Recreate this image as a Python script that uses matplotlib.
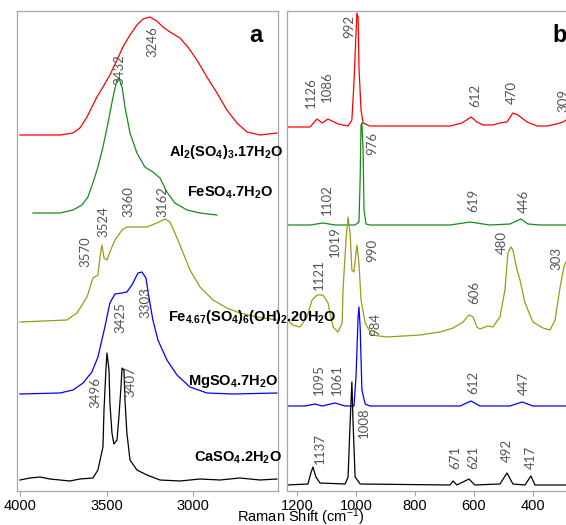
import matplotlib
matplotlib.use("Agg")
from matplotlib import pyplot as plt

# ---- panel a : O-H stretching region (wavenumber, intensity) ----
al_oh_x = [4000, 3769, 3694, 3654, 3613, 3585, 3556, 3521, 3481, 3440, 3406, 3365,
           3325, 3290, 3250, 3210, 3175, 3134, 3077, 3031, 2979, 2921, 2863, 2806,
           2748, 2690, 2615, 2517]
al_oh_y = [356, 356, 358, 363, 374, 384, 394, 404, 416, 431, 444, 456,
           466, 472, 474, 470, 464, 459, 453, 444, 431, 414, 398, 381,
           368, 359, 356, 358]

fe7_oh_x = [3925, 3769, 3694, 3642, 3608, 3579, 3550, 3521, 3492, 3463, 3440, 3429,
            3411, 3394, 3365, 3325, 3279, 3233, 3192, 3152, 3106, 3036, 2961, 2863]
fe7_oh_y = [278, 278, 281, 286, 294, 308, 324, 344, 368, 394, 411, 413,
            404, 384, 358, 338, 324, 319, 313, 299, 288, 281, 278, 276]

fe467_oh_x = [4000, 3729, 3671, 3613, 3579, 3550, 3538, 3527, 3515, 3498, 3481, 3452,
              3411, 3383, 3325, 3267, 3210, 3163, 3134, 3106, 3065, 3019, 2961, 2886,
              2806, 2731, 2633, 2517]
fe467_oh_y = [169, 171, 178, 194, 213, 216, 234, 246, 233, 231, 239, 251,
              261, 264, 264, 264, 268, 272, 269, 258, 241, 221, 204, 191,
              183, 178, 174, 171]

mg_oh_x = [4000, 3769, 3694, 3636, 3585, 3550, 3510, 3481, 3452, 3411, 3383, 3354,
           3319, 3296, 3273, 3256, 3233, 3204, 3152, 3094, 3019, 2921, 2771, 2517]
mg_oh_y = [97, 98, 101, 108, 119, 134, 164, 188, 197, 198, 199, 206,
           218, 219, 213, 194, 171, 151, 131, 116, 104, 98, 97, 98]

ca_oh_x = [4000, 3942, 3885, 3827, 3769, 3712, 3654, 3579, 3550, 3521, 3515, 3504,
           3498, 3486, 3481, 3469, 3458, 3440, 3429, 3417, 3411, 3400, 3394, 3383,
           3365, 3325, 3267, 3192, 3077, 2961, 2846, 2731, 2615, 2517]
ca_oh_y = [11, 13, 14, 12, 11, 10, 12, 13, 21, 44, 81, 121,
           138, 121, 88, 58, 47, 51, 74, 104, 123, 121, 91, 58,
           31, 21, 16, 11, 10, 12, 11, 13, 11, 12]

# ---- panel b : sulfate region ----
al_so4_x = [1234, 1156, 1132, 1115, 1095, 1061, 1027, 1014, 1007, 1000, 997, 993,
            990, 983, 976, 953, 681, 641, 610, 590, 569, 536, 512, 488,
            468, 451, 420, 386, 353, 319, 298, 288]
al_so4_y = [364, 364, 372, 368, 372, 367, 365, 371, 408, 458, 478, 474,
            424, 381, 368, 365, 365, 368, 374, 369, 366, 366, 368, 369,
            378, 376, 369, 365, 365, 367, 369, 371]

fe7_so4_x = [1234, 1156, 1112, 1071, 1003, 990, 986, 983, 980, 976, 973, 966,
             953, 681, 613, 546, 478, 441, 417, 376, 288]
fe7_so4_y = [266, 266, 268, 266, 266, 269, 311, 366, 368, 341, 281, 267,
             266, 266, 269, 266, 267, 272, 267, 266, 266]

fe467_so4_x = [1234, 1214, 1190, 1166, 1149, 1132, 1112, 1095, 1078, 1061, 1047, 1044,
               1034, 1027, 1020, 1014, 1007, 1000, 997, 990, 983, 969, 946, 895,
               783, 715, 671, 637, 617, 603, 590, 580, 553, 536, 512, 495,
               485, 475, 468, 454, 444, 427, 400, 366, 342, 325, 308, 295, 288]
fe467_so4_y = [171, 166, 164, 174, 191, 196, 196, 188, 164, 159, 168, 201,
               251, 274, 258, 221, 219, 238, 246, 228, 191, 168, 156, 154,
               156, 159, 163, 169, 176, 174, 164, 162, 165, 164, 174, 201,
               238, 244, 241, 221, 211, 188, 169, 163, 161, 171, 204, 224, 229]

mg_so4_x = [1234, 1173, 1139, 1115, 1071, 1037, 1007, 1000, 993, 990, 986, 980,
            969, 953, 647, 610, 580, 478, 437, 400, 288]
mg_so4_y = [85, 85, 87, 85, 88, 85, 85, 114, 174, 184, 164, 101,
            87, 85, 85, 90, 85, 85, 89, 85, 85]

ca_so4_x = [1234, 1163, 1153, 1146, 1136, 1122, 1037, 1027, 1020, 1014, 1010, 1003,
            986, 681, 671, 658, 617, 597, 512, 488, 468, 427, 407, 393, 288]
ca_so4_y = [6, 7, 18, 24, 14, 8, 7, 14, 68, 109, 68, 14,
            7, 6, 10, 6, 12, 6, 7, 18, 7, 6, 15, 6, 6]

colors = ["#ff0000", "#1a8a1a", "#9b9b17", "#0000ff", "#000000"]

compounds = [
    r"$\mathbf{Al_2(SO_4)_3.17H_2O}$",
    r"$\mathbf{FeSO_4.7H_2O}$",
    r"$\mathbf{Fe_{4.67}(SO_4)_6(OH)_2.20H_2O}$",
    r"$\mathbf{MgSO_4.7H_2O}$",
    r"$\mathbf{CaSO_4.2H_2O}$",
]

oh_peaks = ["3246", "3432", "3360", "3162", "3524", "3570", "3425", "3303", "3496", "3407"]
so4_peaks = ["992", "1126", "1086", "612", "470", "309",
             "976", "1102", "619", "446",
             "1019", "990", "480", "303", "1121", "606",
             "984", "1095", "1061", "612", "447",
             "1008", "1137", "671", "621", "492", "417"]

# where the text sits (data coords)
oh_peak_pos = [(3233, 449), (3429, 421), (3377, 289), (3181, 289), (3521, 269),
               (3625, 239), (3423, 173), (3279, 188), (3567, 98), (3365, 109)]
so4_peak_pos = [(1024, 465), (1153, 398), (1098, 404), (597, 396), (471, 399), (298, 391),
                (946, 348), (1098, 291), (603, 291), (430, 290),
                (1071, 249), (946, 241), (505, 248), (319, 233), (1125, 216), (600, 199),
                (936, 167), (1125, 111), (1064, 111), (603, 109), (430, 108),
                (973, 68), (1122, 42), (664, 34), (603, 34), (488, 41), (407, 34)]
compound_pos = [(2482, 339, "right"), (2540, 298, "right"), (3146, 174, "left"),
                (2511, 110, "right"), (2488, 33, "right")]

FRAME = "#a6a6a6"


def style_axes(ax, xlim, ticks):
    ax.set_xlim(*xlim)
    ax.set_ylim(0, 480)
    ax.set_yticks([])
    ax.set_xticks(ticks)
    ax.tick_params(axis="x", direction="out", length=3.5, width=0.8, color=FRAME,
                   labelsize=10.5, pad=2)
    for lab in ax.get_xticklabels():
        lab.set_fontfamily("Liberation Sans")
    for s in ax.spines.values():
        s.set_color(FRAME)
        s.set_linewidth(0.9)


def main():
    plt.rcParams["mathtext.fontset"] = "custom"
    plt.rcParams["mathtext.rm"] = "Liberation Sans"
    plt.rcParams["mathtext.bf"] = "Liberation Sans:bold"
    plt.rcParams["mathtext.it"] = "Liberation Sans:italic"

    fig = plt.figure(figsize=(5.66, 5.25), dpi=100)
    ax1 = fig.add_axes([17 / 566, 34 / 525, 261 / 566, 480 / 525])
    ax2 = fig.add_axes([287 / 566, 34 / 525, 279 / 566, 480 / 525])
    # compound names spill over into panel b, so panel a goes on top
    ax1.set_zorder(2)

    oh = [(al_oh_x, al_oh_y), (fe7_oh_x, fe7_oh_y), (fe467_oh_x, fe467_oh_y),
          (mg_oh_x, mg_oh_y), (ca_oh_x, ca_oh_y)]
    so4 = [(al_so4_x, al_so4_y), (fe7_so4_x, fe7_so4_y), (fe467_so4_x, fe467_so4_y),
           (mg_so4_x, mg_so4_y), (ca_so4_x, ca_so4_y)]
    for (x, y), c in zip(oh, colors):
        ax1.plot(x, y, color=c, lw=0.9)
    for (x, y), c in zip(so4, colors):
        ax2.plot(x, y, color=c, lw=0.9)

    style_axes(ax1, (4017, 2511), [4000, 3500, 3000])
    style_axes(ax2, (1234, 288), [1200, 1000, 800, 600, 400])
    ax2.spines["right"].set_visible(False)

    for txt, (x, y) in zip(oh_peaks, oh_peak_pos):
        ax1.text(x, y, txt, rotation=90, ha="center", va="center", fontsize=9.5,
                 color="#555555", family="Lato")
    for txt, (x, y) in zip(so4_peaks, so4_peak_pos):
        ax2.text(x, y, txt, rotation=90, ha="center", va="center", fontsize=9.5,
                 color="#555555", family="Lato")

    for txt, (x, y, ha) in zip(compounds, compound_pos):
        ax1.text(x, y, txt, ha=ha, va="center", fontsize=10.5, color="black",
                 zorder=5, clip_on=False)

    fig.text(256 / 566, 1 - 42 / 525, "a", ha="center", va="baseline",
             fontsize=17, fontweight="bold", family="Liberation Sans")
    fig.text(560 / 566, 1 - 42 / 525, "b", ha="center", va="baseline",
             fontsize=17, fontweight="bold", family="Liberation Sans")

    fig.text(301 / 566, 1 - 522 / 525, r"Raman Shift (cm$^{-1}$)", ha="center",
             va="baseline", fontsize=10.5, family="Liberation Sans")

    fig.savefig("out.png", dpi=100)


if __name__ == "__main__":
    main()
